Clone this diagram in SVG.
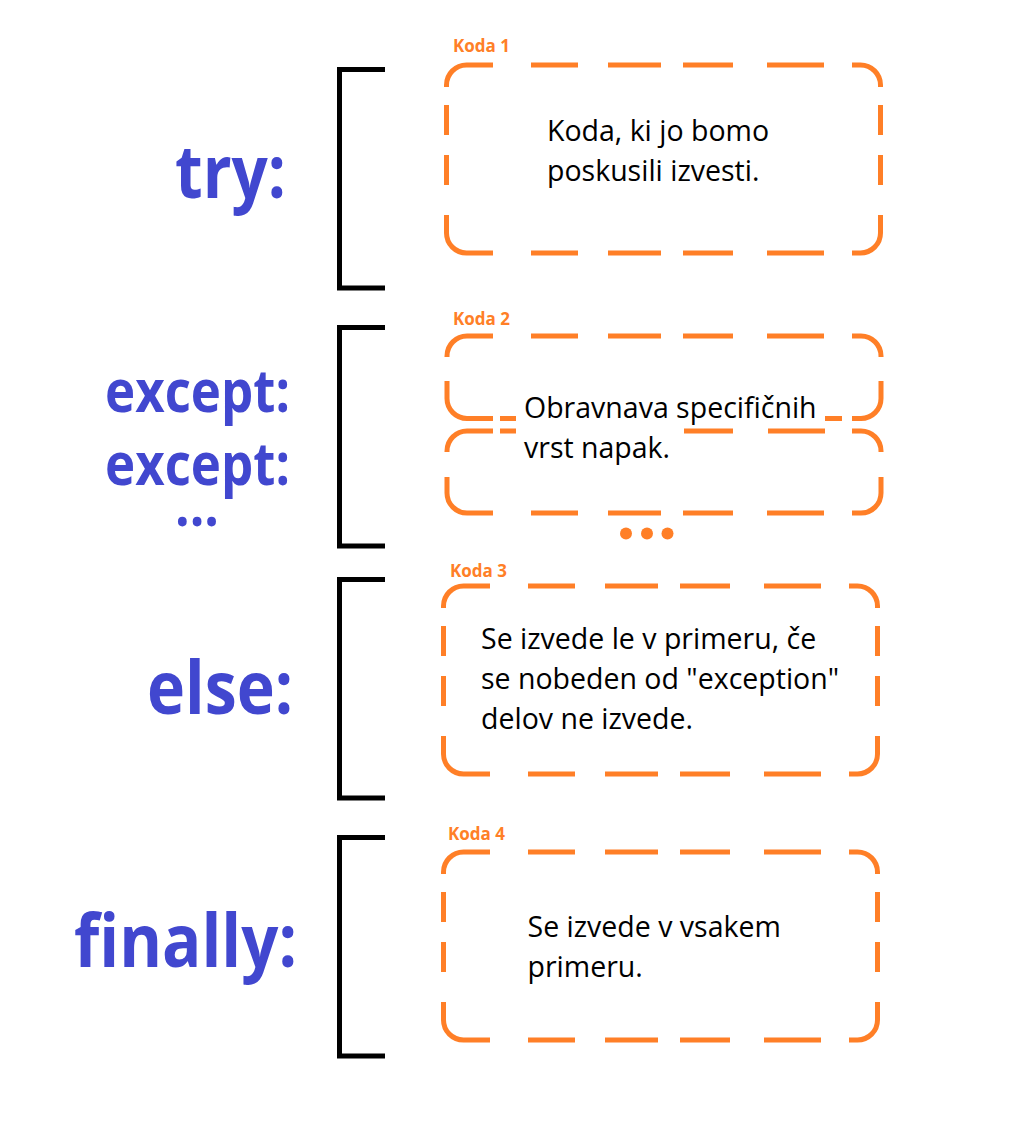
<svg xmlns="http://www.w3.org/2000/svg" xmlns:xlink="http://www.w3.org/1999/xlink" width="1026" height="1130" viewBox="0 0 1026 1130">
<style>
.bracket{fill:none;stroke:#000;stroke-width:5;stroke-linejoin:miter}
.box{fill:none;stroke:#FF7F27;stroke-width:5;stroke-linecap:butt}
.kw{font-family:"Open Sans","Liberation Sans",sans-serif;font-weight:bold;fill:#4147CF}
.lbl{font-family:"Open Sans","Liberation Sans",sans-serif;font-weight:bold;font-size:17px;fill:#FF7F27}
.body{font-family:"Open Sans","Liberation Sans",sans-serif;font-size:28.5px;fill:#000}
</style>
<defs>
<path id="bigbox" class="box" d="M0,22 V20 A20,20 0 0 1 20,0 H46.5 M84.5,0 H131.5 M161.5,0 H214.5 M236.5,0 H286.5 M320.5,0 H377.5 M405.5,0 H414 A20,20 0 0 1 434,20 V22 M434,40 V70 M434,90 V120 M434,150 V168 A20,20 0 0 1 414,188 H405.5 M377.5,188 H320.5 M286.5,188 H236.5 M214.5,188 H161.5 M131.5,188 H84.5 M46.5,188 H20 A20,20 0 0 1 0,168 V150 M0,120 V90 M0,70 V40"/>
</defs>
<rect width="1026" height="1130" fill="#fff"/>

<g id="connectors">
<path class="bracket" d="M385,69.5 H339.5 V288 H385"/>
<path class="bracket" d="M385,327.5 H339.5 V546 H385"/>
<path class="bracket" d="M385,579.5 H339.5 V798 H385"/>
<path class="bracket" d="M385,837.5 H339.5 V1056 H385"/>
</g>

<g id="try">
<text class="kw" x="175" y="198" font-size="73" textLength="111" lengthAdjust="spacingAndGlyphs">try:</text>
</g>
<g id="except">
<text class="kw" x="105" y="412" font-size="59" textLength="185" lengthAdjust="spacingAndGlyphs">except:</text>
<text class="kw" x="105" y="485" font-size="59" textLength="185" lengthAdjust="spacingAndGlyphs">except:</text>
<text class="kw" x="175" y="526" font-size="59" textLength="44" lengthAdjust="spacingAndGlyphs">...</text>
</g>
<g id="else">
<text class="kw" x="147" y="714" font-size="73" textLength="146" lengthAdjust="spacingAndGlyphs">else:</text>
</g>
<g id="finally">
<text class="kw" x="74" y="967" font-size="73" textLength="223" lengthAdjust="spacingAndGlyphs">finally:</text>
</g>

<g id="koda1">
<text class="lbl" x="453" y="52">Koda 1</text>
<use xlink:href="#bigbox" href="#bigbox" x="446.5" y="65"/>
<text class="body" x="547" y="141">Koda, ki jo bomo</text>
<text class="body" x="547" y="181">poskusili izvesti.</text>
</g>

<g id="koda2">
<text class="lbl" x="453" y="325">Koda 2</text>
<path class="box" d="M447,357 V356 A20,20 0 0 1 467,336 H493 M531,336 H578 M608,336 H661 M683,336 H733 M767,336 H824 M852,336 H861 A20,20 0 0 1 881,356 V357 M881,381 V398.5 A20,20 0 0 1 861,418.5 H852 M842,418.5 H825 M516,418.5 H500 M493,418.5 H467 A20,20 0 0 1 447,398.5 V381"/>
<path class="box" d="M447,452 V451 A20,20 0 0 1 467,431 H493 M500,431 H516 M684,431 H733 M768,431 H825 M852,431 H861 A20,20 0 0 1 881,451 V452 M881,477 V493 A20,20 0 0 1 861,513 H852 M824,513 H767 M733,513 H683 M661,513 H608 M578,513 H531 M493,513 H467 A20,20 0 0 1 447,493 V477"/>
<text class="body" x="524" y="418">Obravnava specifičnih</text>
<text class="body" x="524" y="458">vrst napak.</text>
<circle cx="626" cy="533.5" r="6" fill="#FF7F27"/>
<circle cx="647" cy="533.5" r="6" fill="#FF7F27"/>
<circle cx="667.5" cy="533.5" r="6" fill="#FF7F27"/>
</g>

<g id="koda3">
<text class="lbl" x="450" y="577">Koda 3</text>
<use xlink:href="#bigbox" href="#bigbox" x="443.5" y="586"/>
<text class="body" x="481" y="649">Se izvede le v primeru, če</text>
<text class="body" x="481" y="689">se nobeden od "exception"</text>
<text class="body" x="481" y="729">delov ne izvede.</text>
</g>

<g id="koda4">
<text class="lbl" x="448" y="840">Koda 4</text>
<use xlink:href="#bigbox" href="#bigbox" x="443.5" y="852"/>
<text class="body" x="527.5" y="937">Se izvede v vsakem</text>
<text class="body" x="527.5" y="977">primeru.</text>
</g>
</svg>
